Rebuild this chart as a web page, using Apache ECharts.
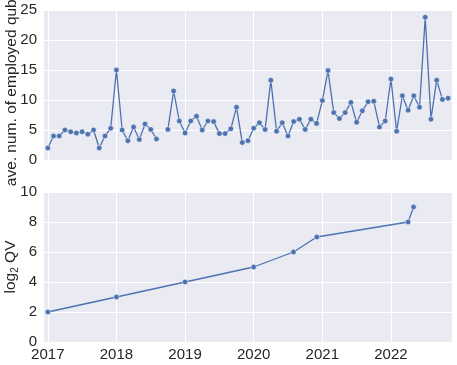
<!DOCTYPE html>
<html>
<head>
<meta charset="utf-8">
<script src="https://cdn.jsdelivr.net/npm/echarts@6/dist/echarts.min.js"></script>
<style>
  html, body { margin: 0; padding: 0; background: #fff; }
  #chart { width: 457px; height: 365px; }
</style>
</head>
<body>
<div id="chart"></div>
<script>
// monthly average of employed qubits, Jan 2017 .. Nov 2022 (null = no data)
const qubitStartYear = 2017
const qubitMonthly = [
  2.0, 4.0, 4.0, 5.0, 4.7, 4.5, 4.7, 4.3, 5.0, 2.0, 4.0, 5.3,
  15.0, 5.0, 3.2, 5.5, 3.4, 6.0, 5.1, 3.5, null, 5.1, 11.5, 6.5,
  4.5, 6.5, 7.3, 5.0, 6.5, 6.4, 4.4, 4.4, 5.2, 8.8, 2.9, 3.2,
  5.3, 6.2, 5.1, 13.3, 4.8, 6.2, 4.0, 6.4, 6.8, 5.1, 6.8, 6.1,
  9.9, 14.9, 7.9, 6.9, 7.9, 9.6, 6.3, 8.2, 9.7, 9.8, 5.5, 6.5,
  13.5, 4.8, 10.7, 8.3, 10.7, 8.8, 23.8, 6.8, 13.3, 10.1, 10.3
]
// quantum volume records
const qvDates = [2017.0, 2018.0, 2019.0, 2020.0, 2020.58, 2020.92, 2022.25, 2022.33]
const qvLog2 = [2, 3, 4, 5, 6, 7, 8, 9]
const topTicks = [0, 5, 10, 15, 20, 25]
const bottomTicks = [0, 2, 4, 6, 8, 10]

const xMin = 2016.93
const xMax = 2022.89
const lineColor = '#4C72B0'
const textColor = '#262626'
const font = 'Liberation Sans, Arial, sans-serif'

const qubitData = qubitMonthly.map((v, i) => [qubitStartYear + i / 12, v])
const qvData = qvDates.map((d, i) => [d, qvLog2[i]])

function makeX(idx, showLabel) {
  return {
    type: 'value',
    gridIndex: idx,
    min: xMin,
    max: xMax,
    splitNumber: 6,
    axisLine: { show: false },
    axisTick: { show: false },
    axisLabel: {
      show: showLabel,
      showMinLabel: false,
      showMaxLabel: false,
      color: textColor,
      fontSize: 15,
      fontFamily: font,
      margin: 5,
      formatter: v => Number.isInteger(v) ? String(v) : ''
    },
    splitLine: { show: true, lineStyle: { color: '#fff', width: 1 } }
  }
}

function makeY(idx, ticks, name, extra) {
  return Object.assign({
    type: 'value',
    gridIndex: idx,
    min: ticks[0],
    max: ticks[ticks.length - 1],
    interval: ticks[1] - ticks[0],
    name: name,
    nameLocation: 'middle',
    nameGap: 23,
    nameMoveOverlap: false,
    nameTextStyle: { color: textColor, fontSize: 15.5, fontFamily: font },
    axisLine: { show: false },
    axisTick: { show: false },
    axisLabel: { color: textColor, fontSize: 15, fontFamily: font, margin: 6 },
    splitLine: { show: true, lineStyle: { color: '#fff', width: 1 } }
  }, extra || {})
}

const chart = echarts.init(document.getElementById('chart'), null, { renderer: 'canvas' })
const option = {
  backgroundColor: '#fff',
  animation: false,
  grid: [
    { left: 43, right: 5, top: 10, height: 150, show: true, backgroundColor: '#EAEAF2', borderWidth: 0, containLabel: false, outerBoundsMode: 'none' },
    { left: 43, right: 5, top: 192, height: 150, show: true, backgroundColor: '#EAEAF2', borderWidth: 0, containLabel: false, outerBoundsMode: 'none' }
  ],
  xAxis: [makeX(0, false), makeX(1, true)],
  yAxis: [
    makeY(0, topTicks, 'ave. num. of employed qubits'),
    makeY(1, bottomTicks, 'log{sub|2} QV', {
      nameTextStyle: {
        color: textColor, fontSize: 15.5, fontFamily: font,
        rich: { sub: { fontSize: 10, fontFamily: font, color: textColor, verticalAlign: 'bottom', padding: [8, 0, 0, 0] } }
      }
    })
  ],
  series: [
    {
      type: 'line',
      xAxisIndex: 0,
      yAxisIndex: 0,
      data: qubitData,
      symbol: 'circle',
      symbolSize: 5.5,
      showSymbol: true,
      connectNulls: false,
      lineStyle: { color: lineColor, width: 1.3 },
      itemStyle: { color: lineColor, borderColor: '#fff', borderWidth: 0.5 }
    },
    {
      type: 'line',
      xAxisIndex: 1,
      yAxisIndex: 1,
      data: qvData,
      symbol: 'circle',
      symbolSize: 5.5,
      lineStyle: { color: lineColor, width: 1.3 },
      itemStyle: { color: lineColor, borderColor: '#fff', borderWidth: 0.5 }
    }
  ]
}
chart.setOption(option)
</script>
</body>
</html>
